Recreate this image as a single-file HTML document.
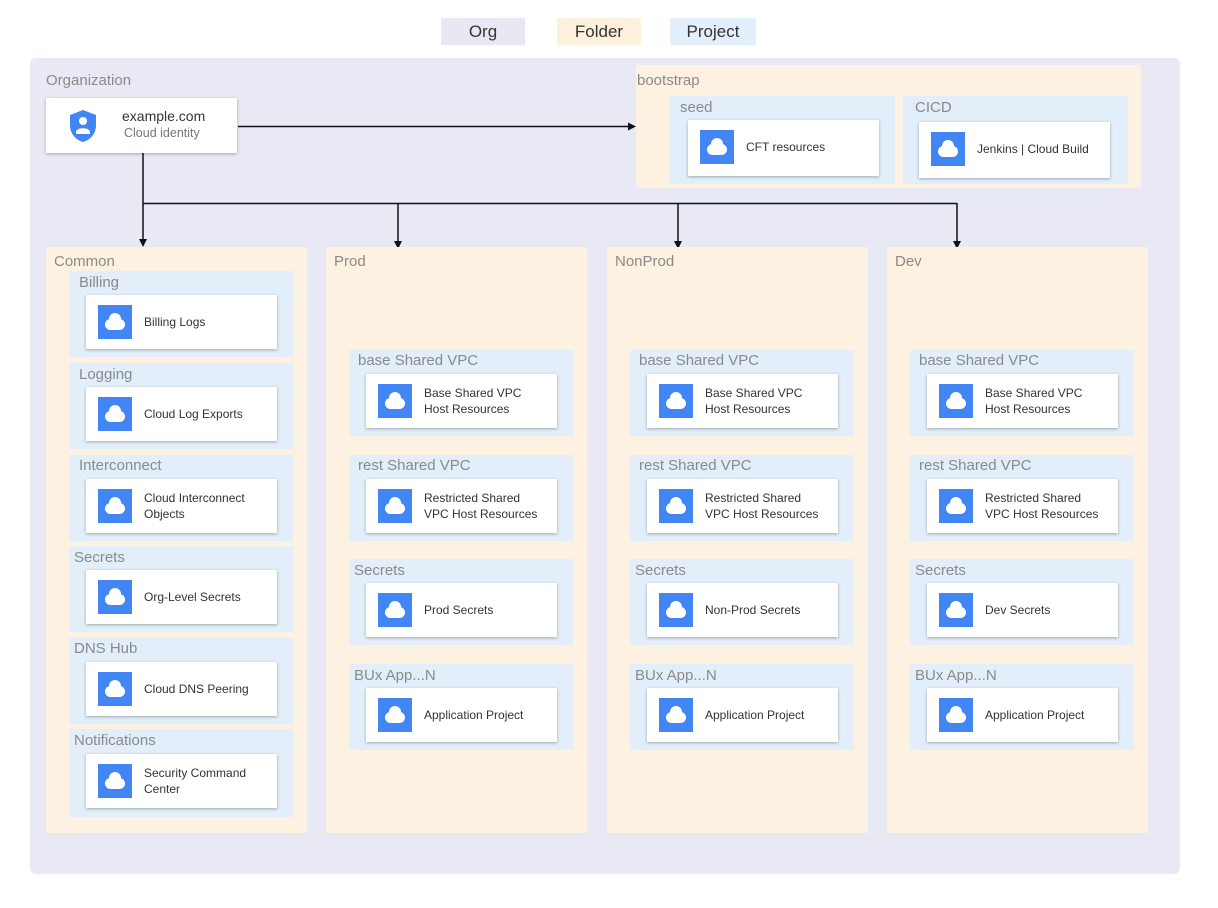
<!DOCTYPE html>
<html><head><meta charset="utf-8"><style>
body{margin:0;width:1218px;height:908px;background:#fff;position:relative;font-family:"Liberation Sans",Arial,sans-serif;overflow:hidden}
div{position:absolute;box-sizing:border-box}
.lg{height:27px;top:18px;font-size:17px;color:#333;text-align:center;line-height:27px}
.org{left:30px;top:58px;width:1150px;height:816px;background:#e8e9f5;border-radius:6px}
.f{background:#fdf1e1}
.p{background:#e2eef9}
.lab{font-size:15px;color:#8a8a8a;white-space:nowrap}
.card{background:#fff;box-shadow:0 1px 3px rgba(0,0,0,.3);width:191px;height:54px}
.ic{left:12px;top:10px;width:34px;height:34px;background:#4285f4}
.ic:before{content:"";position:absolute;left:7px;top:14px;width:20px;height:11px;background:#fff;border-radius:6px}
.ic:after{content:"";position:absolute;left:11px;top:8px;width:12px;height:12px;background:#fff;border-radius:50%}
.t{left:58px;top:0;height:54px;display:flex;align-items:center;font-size:12px;color:#333;line-height:16px;width:116px}
.w{width:130px}
</style></head><body>
<div class="lg" style="left:441px;width:84px;background:#ebe6f3">Org</div>
<div class="lg" style="left:557px;width:84px;background:#fdf0dc">Folder</div>
<div class="lg" style="left:670px;width:86px;background:#e3f0fb">Project</div>
<div class="org"></div>
<div class="lab" style="left:46px;top:72px">Organization</div>
<div class="card" style="left:46px;top:98px;height:55px">
 <svg style="position:absolute;left:22px;top:11px" width="30" height="34" viewBox="0 0 30 34"><path d="M15 1 L28 6 V16 C28 25 22 31 15 33 C8 31 2 25 2 16 V6 Z" fill="#4285f4"/><circle cx="15" cy="12" r="4" fill="#fff"/><path d="M8 23 C8 18 22 18 22 23 L22 25 L8 25Z" fill="#fff"/></svg>
 <div style="left:76px;top:10px;font-size:14px;color:#333">example.com</div>
 <div style="left:78px;top:28px;font-size:12.5px;color:#777">Cloud identity</div>
</div>
<svg style="position:absolute;left:0;top:0" width="1218" height="908">
<g stroke="#111" stroke-width="1.5" fill="none">
<path d="M238 126.5 H628"/><path d="M143 153 V240"/><path d="M143 203.5 H957"/>
<path d="M398 203 V242"/><path d="M678 203 V242"/><path d="M957 203 V242"/>
</g>
<g fill="#111"><path d="M636 126.5 l-8 -4 v8z"/><path d="M143 247 l-4 -8 h8z"/><path d="M398 249 l-4 -8 h8z"/><path d="M678 249 l-4 -8 h8z"/><path d="M957 249 l-4 -8 h8z"/></g>
</svg>
<!-- bootstrap -->
<div class="f" style="left:636px;top:65px;width:505px;height:123px"></div>
<div class="lab" style="left:637px;top:72px">bootstrap</div>
<div class="p" style="left:670px;top:96px;width:225px;height:88px"></div>
<div class="lab" style="left:680px;top:99px">seed</div>
<div class="card" style="left:688px;top:120px;height:56px"><div class="ic"></div><div class="t w">CFT resources</div></div>
<div class="p" style="left:903px;top:96px;width:225px;height:88px"></div>
<div class="lab" style="left:915px;top:99px">CICD</div>
<div class="card" style="left:919px;top:122px;height:56px"><div class="ic"></div><div class="t w">Jenkins | Cloud Build</div></div>
<!-- Common -->
<div class="f" style="left:46px;top:247px;width:261px;height:586px"></div>
<div class="lab" style="left:54px;top:253px">Common</div>
<div class="p" style="left:69px;top:271px;width:224px;height:86px"></div><div class="lab" style="left:79px;top:274px">Billing</div>
<div class="card" style="left:86px;top:295px"><div class="ic"></div><div class="t">Billing Logs</div></div>
<div class="p" style="left:69px;top:363px;width:224px;height:86px"></div><div class="lab" style="left:79px;top:366px">Logging</div>
<div class="card" style="left:86px;top:387px"><div class="ic"></div><div class="t">Cloud Log Exports</div></div>
<div class="p" style="left:69px;top:455px;width:224px;height:86px"></div><div class="lab" style="left:79px;top:457px">Interconnect</div>
<div class="card" style="left:86px;top:479px"><div class="ic"></div><div class="t">Cloud Interconnect Objects</div></div>
<div class="p" style="left:69px;top:546px;width:224px;height:86px"></div><div class="lab" style="left:74px;top:549px">Secrets</div>
<div class="card" style="left:86px;top:570px"><div class="ic"></div><div class="t">Org-Level Secrets</div></div>
<div class="p" style="left:69px;top:638px;width:224px;height:86px"></div><div class="lab" style="left:74px;top:640px">DNS Hub</div>
<div class="card" style="left:86px;top:662px"><div class="ic"></div><div class="t">Cloud DNS Peering</div></div>
<div class="p" style="left:69px;top:729px;width:224px;height:88px"></div><div class="lab" style="left:74px;top:732px">Notifications</div>
<div class="card" style="left:86px;top:754px"><div class="ic"></div><div class="t">Security Command Center</div></div>
<!-- Prod -->
<div class="f" style="left:326px;top:247px;width:261px;height:586px"></div>
<div class="lab" style="left:334px;top:253px">Prod</div>
<div class="p" style="left:349px;top:350px;width:224px;height:86px"></div><div class="lab" style="left:358px;top:352px">base Shared VPC</div>
<div class="card" style="left:366px;top:374px"><div class="ic"></div><div class="t">Base Shared VPC Host Resources</div></div>
<div class="p" style="left:349px;top:455px;width:224px;height:86px"></div><div class="lab" style="left:358px;top:457px">rest Shared VPC</div>
<div class="card" style="left:366px;top:479px"><div class="ic"></div><div class="t">Restricted Shared VPC Host Resources</div></div>
<div class="p" style="left:349px;top:559px;width:224px;height:86px"></div><div class="lab" style="left:354px;top:562px">Secrets</div>
<div class="card" style="left:366px;top:583px"><div class="ic"></div><div class="t">Prod Secrets</div></div>
<div class="p" style="left:349px;top:664px;width:224px;height:86px"></div><div class="lab" style="left:354px;top:667px">BUx App...N</div>
<div class="card" style="left:366px;top:688px"><div class="ic"></div><div class="t">Application Project</div></div>
<!-- NonProd -->
<div class="f" style="left:607px;top:247px;width:261px;height:586px"></div>
<div class="lab" style="left:615px;top:253px">NonProd</div>
<div class="p" style="left:630px;top:350px;width:224px;height:86px"></div><div class="lab" style="left:639px;top:352px">base Shared VPC</div>
<div class="card" style="left:647px;top:374px"><div class="ic"></div><div class="t">Base Shared VPC Host Resources</div></div>
<div class="p" style="left:630px;top:455px;width:224px;height:86px"></div><div class="lab" style="left:639px;top:457px">rest Shared VPC</div>
<div class="card" style="left:647px;top:479px"><div class="ic"></div><div class="t">Restricted Shared VPC Host Resources</div></div>
<div class="p" style="left:630px;top:559px;width:224px;height:86px"></div><div class="lab" style="left:635px;top:562px">Secrets</div>
<div class="card" style="left:647px;top:583px"><div class="ic"></div><div class="t">Non-Prod Secrets</div></div>
<div class="p" style="left:630px;top:664px;width:224px;height:86px"></div><div class="lab" style="left:635px;top:667px">BUx App...N</div>
<div class="card" style="left:647px;top:688px"><div class="ic"></div><div class="t">Application Project</div></div>
<!-- Dev -->
<div class="f" style="left:887px;top:247px;width:261px;height:586px"></div>
<div class="lab" style="left:895px;top:253px">Dev</div>
<div class="p" style="left:910px;top:350px;width:224px;height:86px"></div><div class="lab" style="left:919px;top:352px">base Shared VPC</div>
<div class="card" style="left:927px;top:374px"><div class="ic"></div><div class="t">Base Shared VPC Host Resources</div></div>
<div class="p" style="left:910px;top:455px;width:224px;height:86px"></div><div class="lab" style="left:919px;top:457px">rest Shared VPC</div>
<div class="card" style="left:927px;top:479px"><div class="ic"></div><div class="t">Restricted Shared VPC Host Resources</div></div>
<div class="p" style="left:910px;top:559px;width:224px;height:86px"></div><div class="lab" style="left:915px;top:562px">Secrets</div>
<div class="card" style="left:927px;top:583px"><div class="ic"></div><div class="t">Dev Secrets</div></div>
<div class="p" style="left:910px;top:664px;width:224px;height:86px"></div><div class="lab" style="left:915px;top:667px">BUx App...N</div>
<div class="card" style="left:927px;top:688px"><div class="ic"></div><div class="t">Application Project</div></div>
</body></html>
